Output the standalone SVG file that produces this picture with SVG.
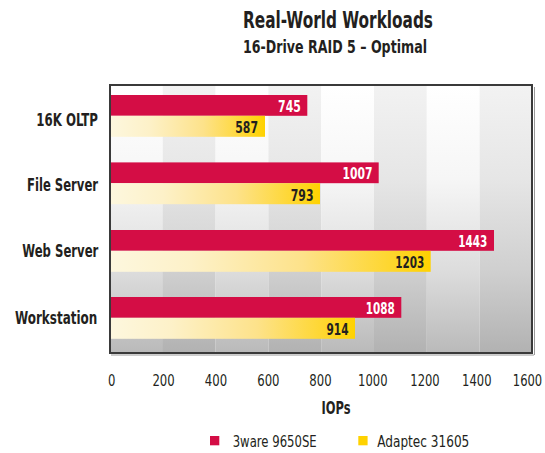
<svg xmlns="http://www.w3.org/2000/svg" width="545" height="453" viewBox="0 0 545 453">
<defs>
<linearGradient id="colLight" x1="0" y1="0" x2="0" y2="1">
<stop offset="0" stop-color="#ffffff"/>
<stop offset="0.35" stop-color="#f6f6f6"/>
<stop offset="0.7" stop-color="#dcdcdc"/>
<stop offset="1" stop-color="#bababa"/>
</linearGradient>
<linearGradient id="colDark" x1="0" y1="0" x2="0" y2="1">
<stop offset="0" stop-color="#f2f2f2"/>
<stop offset="0.35" stop-color="#e6e6e6"/>
<stop offset="0.7" stop-color="#cfcfcf"/>
<stop offset="1" stop-color="#b2b2b2"/>
</linearGradient>
<linearGradient id="gold" x1="0" y1="0" x2="1" y2="0">
<stop offset="0" stop-color="#fdf7de"/>
<stop offset="0.25" stop-color="#fdf1c8"/>
<stop offset="0.6" stop-color="#fde28a"/>
<stop offset="0.88" stop-color="#fed62c"/>
<stop offset="1" stop-color="#ffd200"/>
</linearGradient>
</defs>
<style>
text{font-family:"Liberation Sans Narrow","DejaVu Sans Condensed","Liberation Sans",sans-serif;font-stretch:condensed;fill:#231f20}
.title{font-size:23px;font-weight:bold;text-anchor:middle}
.sub{font-size:18px;font-weight:bold;text-anchor:middle}
.cat{font-size:17px;font-weight:bold;text-anchor:end}
.vr{font-size:15px;font-weight:bold;text-anchor:end;fill:#ffffff}
.vy{font-size:15px;font-weight:bold;text-anchor:end;fill:#231f20}
.tick{font-size:16px;text-anchor:middle}
.leg{font-size:15px}
.red{fill:#d40d45}
.yel{fill:url(#gold)}
.l{fill:url(#colLight)}
.d{fill:url(#colDark)}
</style>
<g id="title">
<text class="title" x="338" y="28" textLength="190" lengthAdjust="spacingAndGlyphs">Real-World Workloads</text>
<text class="sub" x="335" y="53.3" textLength="184" lengthAdjust="spacingAndGlyphs">16-Drive RAID 5 – Optimal</text>
</g>
<g id="plot-area">
<rect x="111" y="86" width="52.8" height="266" class="l"/>
<rect x="162.8" y="86" width="52.8" height="266" class="d"/>
<rect x="215.6" y="86" width="52.8" height="266" class="l"/>
<rect x="268.4" y="86" width="52.8" height="266" class="d"/>
<rect x="321.2" y="86" width="52.8" height="266" class="l"/>
<rect x="374" y="86" width="52.8" height="266" class="d"/>
<rect x="426.8" y="86" width="52.8" height="266" class="l"/>
<rect x="479.6" y="86" width="52.4" height="266" class="d"/>
<line x1="111" y1="355" x2="534" y2="355" stroke="#9a9a9a" stroke-width="1"/>
<line x1="534.5" y1="87" x2="534.5" y2="355" stroke="#9a9a9a" stroke-width="1"/>
<rect x="110" y="85" width="422" height="268" fill="none" stroke="#3a3a3a" stroke-width="2"/>
</g>
<g id="cat-16k-oltp">
<text class="cat" x="98" y="125.7" textLength="61.7" lengthAdjust="spacingAndGlyphs">16K OLTP</text>
<rect class="red" x="111" y="95" width="196.3" height="20.8"/>
<rect class="yel" x="111" y="115.8" width="154" height="21"/>
<text class="vr" x="300.8" y="111.7" textLength="22.7" lengthAdjust="spacingAndGlyphs">745</text>
<text class="vy" x="258" y="133.3" textLength="22.7" lengthAdjust="spacingAndGlyphs">587</text>
</g>
<g id="cat-file-server">
<text class="cat" x="98" y="191" textLength="71" lengthAdjust="spacingAndGlyphs">File Server</text>
<rect class="red" x="111" y="162.4" width="267.7" height="20.8"/>
<rect class="yel" x="111" y="183.2" width="209" height="21"/>
<text class="vr" x="372.4" y="179.1" textLength="30" lengthAdjust="spacingAndGlyphs">1007</text>
<text class="vy" x="313.5" y="200.8" textLength="22.7" lengthAdjust="spacingAndGlyphs">793</text>
</g>
<g id="cat-web-server">
<text class="cat" x="98.3" y="256.7" textLength="76" lengthAdjust="spacingAndGlyphs">Web Server</text>
<rect class="red" x="111" y="230" width="383" height="20.8"/>
<rect class="yel" x="111" y="250.8" width="319.7" height="21"/>
<text class="vr" x="487.3" y="246.7" textLength="29" lengthAdjust="spacingAndGlyphs">1443</text>
<text class="vy" x="424.2" y="268.4" textLength="29" lengthAdjust="spacingAndGlyphs">1203</text>
</g>
<g id="cat-workstation">
<text class="cat" x="97.3" y="324" textLength="82.3" lengthAdjust="spacingAndGlyphs">Workstation</text>
<rect class="red" x="111" y="297" width="290.3" height="20.8"/>
<rect class="yel" x="111" y="317.8" width="244" height="21"/>
<text class="vr" x="394.8" y="313.7" textLength="29" lengthAdjust="spacingAndGlyphs">1088</text>
<text class="vy" x="348.5" y="335.4" textLength="22" lengthAdjust="spacingAndGlyphs">914</text>
</g>
<g id="x-axis">
<text class="tick" x="111.7" y="386" textLength="7.4" lengthAdjust="spacingAndGlyphs">0</text>
<text class="tick" x="163.6" y="386" textLength="22.3" lengthAdjust="spacingAndGlyphs">200</text>
<text class="tick" x="216" y="386" textLength="22.3" lengthAdjust="spacingAndGlyphs">400</text>
<text class="tick" x="268.4" y="386" textLength="22.3" lengthAdjust="spacingAndGlyphs">600</text>
<text class="tick" x="320.5" y="386" textLength="22.3" lengthAdjust="spacingAndGlyphs">800</text>
<text class="tick" x="372.8" y="386" textLength="29.4" lengthAdjust="spacingAndGlyphs">1000</text>
<text class="tick" x="425" y="386" textLength="29.4" lengthAdjust="spacingAndGlyphs">1200</text>
<text class="tick" x="476.8" y="386" textLength="29.4" lengthAdjust="spacingAndGlyphs">1400</text>
<text class="tick" x="527.5" y="386" textLength="29.4" lengthAdjust="spacingAndGlyphs">1600</text>
<text class="cat" style="text-anchor:middle" x="336" y="414" textLength="29" lengthAdjust="spacingAndGlyphs">IOPs</text>
</g>
<g id="legend">
<rect x="210" y="436" width="9.3" height="9.3" fill="#d40d45"/>
<text class="leg" x="232.7" y="447.3" textLength="84" lengthAdjust="spacingAndGlyphs">3ware 9650SE</text>
<rect x="358.3" y="436" width="9.3" height="9.3" fill="#ffd200"/>
<text class="leg" x="377.3" y="447.3" textLength="92" lengthAdjust="spacingAndGlyphs">Adaptec 31605</text>
</g>
</svg>
